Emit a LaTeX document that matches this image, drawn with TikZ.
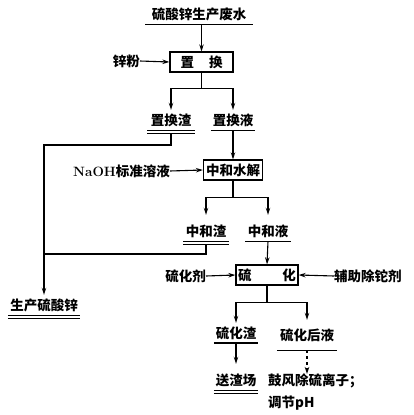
\documentclass[tikz,border=0pt]{standalone}
\usepackage{fontspec}
\newfontfamily\cjk{Noto Sans CJK SC}
\usetikzlibrary{arrows.meta,positioning}
\newcommand{\sgl}[1]{\draw[ln] (#1.south west) -- (#1.south east);}
\newcommand{\dbl}[1]{\draw[ln] (#1.south west) -- (#1.south east);
  \draw[ln] ([yshift=-3pt]#1.south west) -- ([yshift=-3pt]#1.south east);}

\begin{document}
\begin{tikzpicture}[x=1pt,y=-1pt,
  every node/.style={font=\cjk\bfseries\fontsize{13.5}{22}\selectfont,inner sep=0pt},
  proc/.style={draw,line width=1.3pt,minimum width=#1,minimum height=20},
  lbl/.style={minimum width=#1,minimum height=20},
  ln/.style={line width=1.1pt},
  flow/.style={ln,-{Stealth[length=7pt,width=4.5pt]}}]
  \useasboundingbox (0,0) rectangle (413,415);
  % first stage
  \node[lbl=107] (waste) at (199,14) {硫酸锌生产废水};
  \node[proc=63] (zh) at (201.5,62) {置\hspace{15pt}换};
  \node[anchor=east] (zf) at (140,61) {锌粉};
  \node[lbl=47] (zzr) at (171,120) {置换渣};
  \node[lbl=44] (zzy) at (233,120) {置换液};
  \sgl{waste} \dbl{zzr} \sgl{zzy}
  \draw[flow] (zh.north |- waste.south) -- (zh.north);
  \draw[flow] (zf.east) -- (zh.west);
  \draw[ln] (zh.south) -- ++(0,16) coordinate (b1);
  \draw[flow] (b1) -| (zzr.north);
  \draw[flow] (b1) -| (zzy.north);
  % neutralisation
  \node[proc=59] (zhs) at (233,170) {中和水解};
  \node[anchor=east] (naoh) at (170,171) {{\rmfamily\bfseries NaOH}标准溶液};
  \node[lbl=45] (zhz) at (206,231) {中和渣};
  \node[lbl=45] (zhy) at (268,231) {中和液};
  \dbl{zhz} \sgl{zhy}
  \draw[flow] (zzy.south) -- (zhs.north);
  \draw[flow] (naoh.east) -- (zhs.west);
  \draw[ln] (zhs.south) -- ++(0,17) coordinate (b2);
  \draw[flow,shorten >=6pt] (b2) -| (zhz.north);
  \draw[flow,shorten >=6pt] (b2) -| (zhy.north);
  % zinc sulfate product
  \node[lbl=72] (sc) at (44,305) {生产硫酸锌};
  \dbl{sc}
  \coordinate (j1) at (0,145);
  \coordinate (j2) at (0,254);
  \draw[flow] ([yshift=-3pt]zzr.south) |- (j1 -| sc.north) -- (sc.north);
  \draw[ln] ([yshift=-3pt]zhz.south) |- (j2 -| sc.north);
  % sulfidation
  \node[proc=62] (lh) at (267,275) {硫\hspace{31pt}化};
  \node[anchor=east] (lhj) at (206,276) {硫化剂};
  \node[anchor=west] (fz) at (334,276) {辅助除铊剂};
  \draw[flow] (zhy.south) -- (lh.north);
  \draw[flow] (lhj.east) -- (lh.west);
  \draw[flow] (fz.west) -- (lh.east);
  \draw[ln] (lh.south) -- ++(0,17) coordinate (b3);
  \node[lbl=44] (lhz) at (236,333) {硫化渣};
  \node[lbl=60,minimum height=30] (lhy) at (307,335) {硫化后液};
  \draw[line width=2pt] (lhz.south west) -- (lhz.south east);
  \sgl{lhy}
  \draw[flow] (b3) -| (lhz.north);
  \draw[flow] (b3) -| (lhy.north);
  \node[lbl=44] (szc) at (236,380) {送渣场};
  \dbl{szc}
  \node[anchor=north west,align=left] (gf) at (268,374) {鼓风除硫离子；\\调节pH};
  \draw[flow,shorten >=6pt] (lhz.south) -- (szc.north);
  \draw[flow,dashed] (lhy.south) -- (lhy.south |- gf.north);
\end{tikzpicture}
\end{document}
